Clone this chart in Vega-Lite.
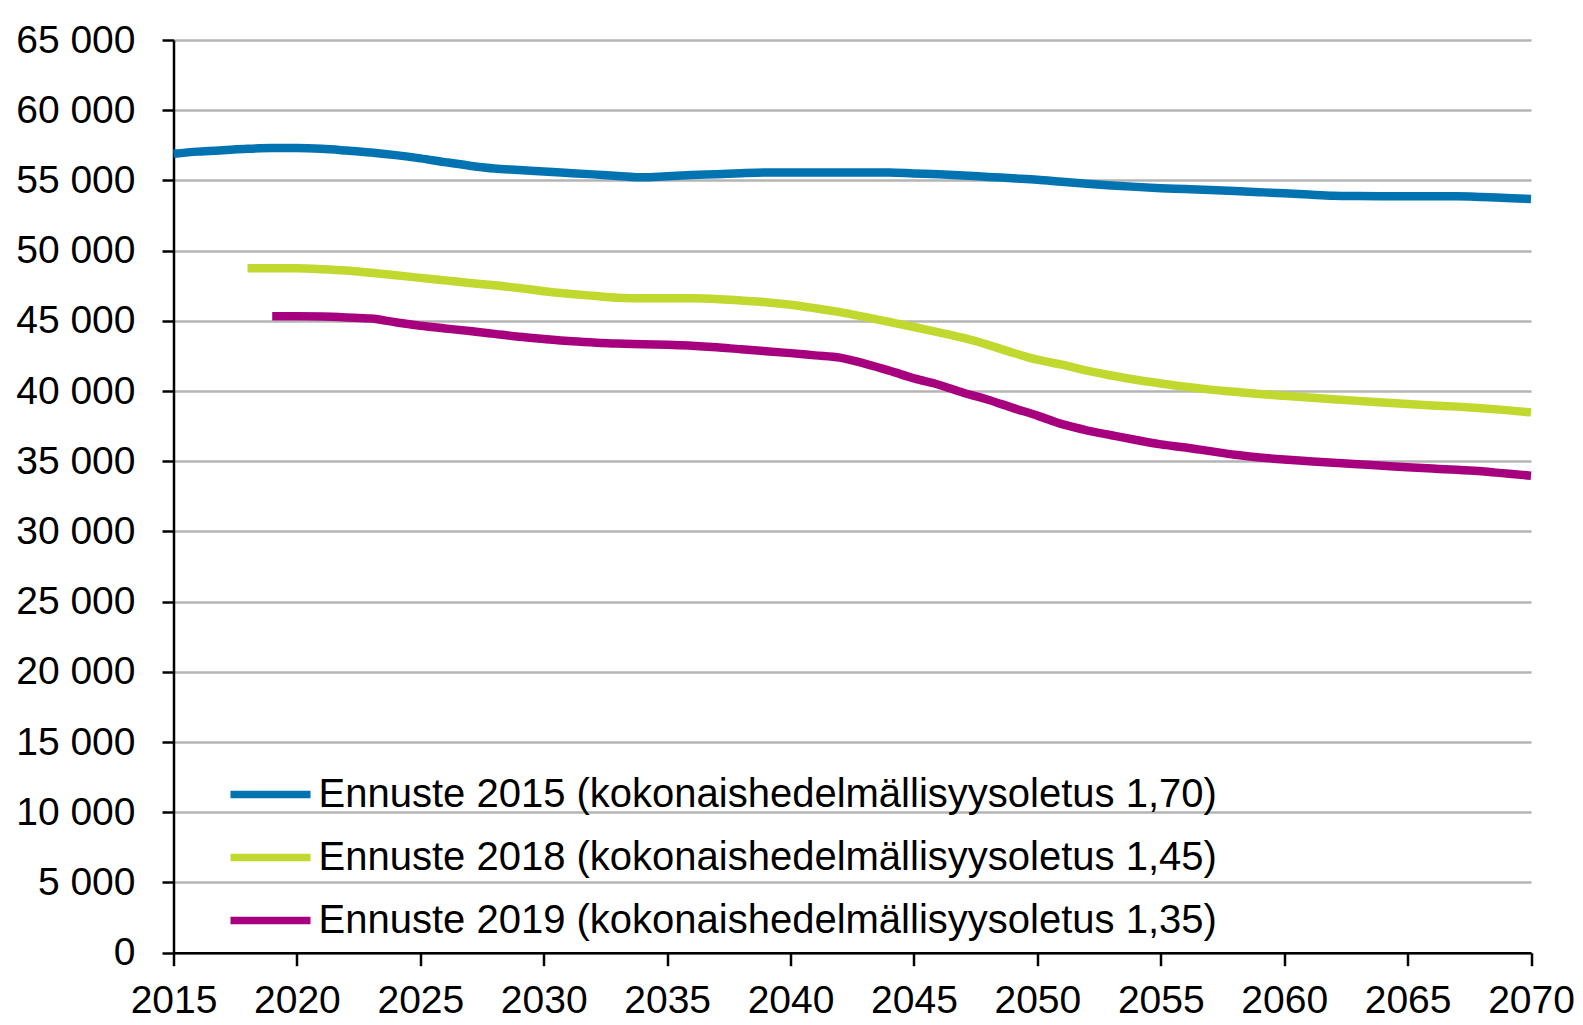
{
  "$schema": "https://vega.github.io/schema/vega-lite/v6.json",
  "autosize": {"type": "none"},
  "width": 1357.5,
  "height": 912.7,
  "padding": {"left": 173.5, "top": 40, "right": 52, "bottom": 72.3},
  "background": "white",
  "config": {
    "view": {"stroke": null},
    "font": "Liberation Sans",
    "axis": {"labelFont": "Liberation Sans", "labelColor": "#000000", "title": null}
  },
  "datasets": {
    "names": [
      {"code": "2015", "series": "Ennuste 2015 (kokonaishedelmällisyysoletus 1,70)"},
      {"code": "2018", "series": "Ennuste 2018 (kokonaishedelmällisyysoletus 1,45)"},
      {"code": "2019", "series": "Ennuste 2019 (kokonaishedelmällisyysoletus 1,35)"}
    ]
  },
  "data": {
    "values": [
      {"code": "2015", "year": 2015, "value": 56900},
      {"code": "2015", "year": 2016, "value": 57050},
      {"code": "2015", "year": 2017, "value": 57150},
      {"code": "2015", "year": 2018, "value": 57250},
      {"code": "2015", "year": 2019, "value": 57300},
      {"code": "2015", "year": 2020, "value": 57300},
      {"code": "2015", "year": 2021, "value": 57250},
      {"code": "2015", "year": 2022, "value": 57130},
      {"code": "2015", "year": 2023, "value": 56990},
      {"code": "2015", "year": 2024, "value": 56800},
      {"code": "2015", "year": 2025, "value": 56570},
      {"code": "2015", "year": 2026, "value": 56300},
      {"code": "2015", "year": 2027, "value": 56050},
      {"code": "2015", "year": 2028, "value": 55850},
      {"code": "2015", "year": 2029, "value": 55750},
      {"code": "2015", "year": 2030, "value": 55630},
      {"code": "2015", "year": 2031, "value": 55530},
      {"code": "2015", "year": 2032, "value": 55430},
      {"code": "2015", "year": 2033, "value": 55320},
      {"code": "2015", "year": 2034, "value": 55220},
      {"code": "2015", "year": 2035, "value": 55300},
      {"code": "2015", "year": 2036, "value": 55380},
      {"code": "2015", "year": 2037, "value": 55440},
      {"code": "2015", "year": 2038, "value": 55510},
      {"code": "2015", "year": 2039, "value": 55560},
      {"code": "2015", "year": 2040, "value": 55570},
      {"code": "2015", "year": 2041, "value": 55570},
      {"code": "2015", "year": 2042, "value": 55570},
      {"code": "2015", "year": 2043, "value": 55570},
      {"code": "2015", "year": 2044, "value": 55570},
      {"code": "2015", "year": 2045, "value": 55500},
      {"code": "2015", "year": 2046, "value": 55440},
      {"code": "2015", "year": 2047, "value": 55350},
      {"code": "2015", "year": 2048, "value": 55250},
      {"code": "2015", "year": 2049, "value": 55150},
      {"code": "2015", "year": 2050, "value": 55050},
      {"code": "2015", "year": 2051, "value": 54900},
      {"code": "2015", "year": 2052, "value": 54760},
      {"code": "2015", "year": 2053, "value": 54640},
      {"code": "2015", "year": 2054, "value": 54540},
      {"code": "2015", "year": 2055, "value": 54450},
      {"code": "2015", "year": 2056, "value": 54380},
      {"code": "2015", "year": 2057, "value": 54310},
      {"code": "2015", "year": 2058, "value": 54240},
      {"code": "2015", "year": 2059, "value": 54160},
      {"code": "2015", "year": 2060, "value": 54080},
      {"code": "2015", "year": 2061, "value": 53990},
      {"code": "2015", "year": 2062, "value": 53910},
      {"code": "2015", "year": 2063, "value": 53890},
      {"code": "2015", "year": 2064, "value": 53880},
      {"code": "2015", "year": 2065, "value": 53870},
      {"code": "2015", "year": 2066, "value": 53870},
      {"code": "2015", "year": 2067, "value": 53870},
      {"code": "2015", "year": 2068, "value": 53820},
      {"code": "2015", "year": 2069, "value": 53750},
      {"code": "2015", "year": 2070, "value": 53680},
      {"code": "2018", "year": 2018, "value": 48740},
      {"code": "2018", "year": 2019, "value": 48740},
      {"code": "2018", "year": 2020, "value": 48740},
      {"code": "2018", "year": 2021, "value": 48680},
      {"code": "2018", "year": 2022, "value": 48580},
      {"code": "2018", "year": 2023, "value": 48420},
      {"code": "2018", "year": 2024, "value": 48250},
      {"code": "2018", "year": 2025, "value": 48060},
      {"code": "2018", "year": 2026, "value": 47880},
      {"code": "2018", "year": 2027, "value": 47700},
      {"code": "2018", "year": 2028, "value": 47530},
      {"code": "2018", "year": 2029, "value": 47340},
      {"code": "2018", "year": 2030, "value": 47110},
      {"code": "2018", "year": 2031, "value": 46930},
      {"code": "2018", "year": 2032, "value": 46780},
      {"code": "2018", "year": 2033, "value": 46640},
      {"code": "2018", "year": 2034, "value": 46600},
      {"code": "2018", "year": 2035, "value": 46600},
      {"code": "2018", "year": 2036, "value": 46600},
      {"code": "2018", "year": 2037, "value": 46560},
      {"code": "2018", "year": 2038, "value": 46450},
      {"code": "2018", "year": 2039, "value": 46330},
      {"code": "2018", "year": 2040, "value": 46150},
      {"code": "2018", "year": 2041, "value": 45900},
      {"code": "2018", "year": 2042, "value": 45620},
      {"code": "2018", "year": 2043, "value": 45280},
      {"code": "2018", "year": 2044, "value": 44920},
      {"code": "2018", "year": 2045, "value": 44560},
      {"code": "2018", "year": 2046, "value": 44180},
      {"code": "2018", "year": 2047, "value": 43780},
      {"code": "2018", "year": 2048, "value": 43290},
      {"code": "2018", "year": 2049, "value": 42730},
      {"code": "2018", "year": 2050, "value": 42230},
      {"code": "2018", "year": 2051, "value": 41880},
      {"code": "2018", "year": 2052, "value": 41450},
      {"code": "2018", "year": 2053, "value": 41110},
      {"code": "2018", "year": 2054, "value": 40800},
      {"code": "2018", "year": 2055, "value": 40540},
      {"code": "2018", "year": 2056, "value": 40300},
      {"code": "2018", "year": 2057, "value": 40100},
      {"code": "2018", "year": 2058, "value": 39950},
      {"code": "2018", "year": 2059, "value": 39790},
      {"code": "2018", "year": 2060, "value": 39660},
      {"code": "2018", "year": 2061, "value": 39540},
      {"code": "2018", "year": 2062, "value": 39420},
      {"code": "2018", "year": 2063, "value": 39300},
      {"code": "2018", "year": 2064, "value": 39180},
      {"code": "2018", "year": 2065, "value": 39070},
      {"code": "2018", "year": 2066, "value": 38970},
      {"code": "2018", "year": 2067, "value": 38890},
      {"code": "2018", "year": 2068, "value": 38780},
      {"code": "2018", "year": 2069, "value": 38640},
      {"code": "2018", "year": 2070, "value": 38480},
      {"code": "2019", "year": 2019, "value": 45320},
      {"code": "2019", "year": 2020, "value": 45320},
      {"code": "2019", "year": 2021, "value": 45300},
      {"code": "2019", "year": 2022, "value": 45240},
      {"code": "2019", "year": 2023, "value": 45160},
      {"code": "2019", "year": 2024, "value": 44900},
      {"code": "2019", "year": 2025, "value": 44650},
      {"code": "2019", "year": 2026, "value": 44460},
      {"code": "2019", "year": 2027, "value": 44270},
      {"code": "2019", "year": 2028, "value": 44070},
      {"code": "2019", "year": 2029, "value": 43870},
      {"code": "2019", "year": 2030, "value": 43710},
      {"code": "2019", "year": 2031, "value": 43560},
      {"code": "2019", "year": 2032, "value": 43460},
      {"code": "2019", "year": 2033, "value": 43380},
      {"code": "2019", "year": 2034, "value": 43340},
      {"code": "2019", "year": 2035, "value": 43290},
      {"code": "2019", "year": 2036, "value": 43230},
      {"code": "2019", "year": 2037, "value": 43120},
      {"code": "2019", "year": 2038, "value": 42970},
      {"code": "2019", "year": 2039, "value": 42840},
      {"code": "2019", "year": 2040, "value": 42700},
      {"code": "2019", "year": 2041, "value": 42540},
      {"code": "2019", "year": 2042, "value": 42380},
      {"code": "2019", "year": 2043, "value": 41950},
      {"code": "2019", "year": 2044, "value": 41450},
      {"code": "2019", "year": 2045, "value": 40900},
      {"code": "2019", "year": 2046, "value": 40450},
      {"code": "2019", "year": 2047, "value": 39880},
      {"code": "2019", "year": 2048, "value": 39380},
      {"code": "2019", "year": 2049, "value": 38800},
      {"code": "2019", "year": 2050, "value": 38250},
      {"code": "2019", "year": 2051, "value": 37640},
      {"code": "2019", "year": 2052, "value": 37200},
      {"code": "2019", "year": 2053, "value": 36850},
      {"code": "2019", "year": 2054, "value": 36510},
      {"code": "2019", "year": 2055, "value": 36200},
      {"code": "2019", "year": 2056, "value": 35980},
      {"code": "2019", "year": 2057, "value": 35720},
      {"code": "2019", "year": 2058, "value": 35460},
      {"code": "2019", "year": 2059, "value": 35270},
      {"code": "2019", "year": 2060, "value": 35120},
      {"code": "2019", "year": 2061, "value": 35000},
      {"code": "2019", "year": 2062, "value": 34890},
      {"code": "2019", "year": 2063, "value": 34780},
      {"code": "2019", "year": 2064, "value": 34680},
      {"code": "2019", "year": 2065, "value": 34570},
      {"code": "2019", "year": 2066, "value": 34480},
      {"code": "2019", "year": 2067, "value": 34390},
      {"code": "2019", "year": 2068, "value": 34290},
      {"code": "2019", "year": 2069, "value": 34120},
      {"code": "2019", "year": 2070, "value": 33970}
    ]
  },
  "transform": [
    {"lookup": "code", "from": {"data": {"name": "names"}, "key": "code", "fields": ["series"]}}
  ],
  "mark": {"type": "line", "strokeWidth": 8.5, "strokeCap": "butt", "interpolate": "monotone", "clip": false},
  "encoding": {
    "x": {
      "field": "year",
      "type": "quantitative",
      "scale": {"domain": [2015, 2070], "nice": false, "zero": false},
      "axis": {
        "values": [2015, 2020, 2025, 2030, 2035, 2040, 2045, 2050, 2055, 2060, 2065, 2070],
        "format": "d",
        "grid": false,
        "domainColor": "#000000",
        "domainWidth": 2.5,
        "tickColor": "#000000",
        "tickWidth": 2.5,
        "tickSize": 13,
        "labelFontSize": 39,
        "labelPadding": 16,
        "labelFlush": false,
        "labelOverlap": false
      }
    },
    "y": {
      "field": "value",
      "type": "quantitative",
      "scale": {"domain": [0, 65000], "nice": false},
      "axis": {
        "values": [0, 5000, 10000, 15000, 20000, 25000, 30000, 35000, 40000, 45000, 50000, 55000, 60000, 65000],
        "labelExpr": "replace(format(datum.value, ','), ',', ' ')",
        "grid": true,
        "gridColor": "#b4b4b4",
        "gridWidth": 2.3,
        "domainColor": "#000000",
        "domainWidth": 2.5,
        "tickColor": "#000000",
        "tickWidth": 2.5,
        "tickSize": 11.5,
        "labelFontSize": 39,
        "labelPadding": 27,
        "labelOverlap": false
      }
    },
    "color": {
      "field": "series",
      "type": "nominal",
      "scale": {
        "domain": [
          "Ennuste 2015 (kokonaishedelmällisyysoletus 1,70)",
          "Ennuste 2018 (kokonaishedelmällisyysoletus 1,45)",
          "Ennuste 2019 (kokonaishedelmällisyysoletus 1,35)"
        ],
        "range": ["#0073B0", "#C1D82F", "#A6007F"]
      },
      "legend": {
        "title": null,
        "orient": "none",
        "legendX": 53,
        "legendY": 734.5,
        "padding": 0,
        "symbolType": "stroke",
        "symbolSize": 6400,
        "symbolStrokeWidth": 7.5,
        "clipHeight": 40,
        "rowPadding": 23,
        "labelOffset": 4,
        "labelFont": "Liberation Sans",
        "labelFontSize": 40,
        "labelColor": "#000000",
        "labelLimit": 0
      }
    }
  }
}
